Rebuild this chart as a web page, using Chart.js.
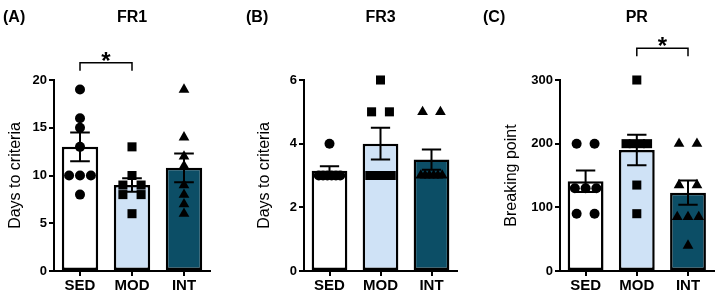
<!DOCTYPE html>
<html>
<head>
<meta charset="utf-8">
<script src="https://cdn.jsdelivr.net/npm/chart.js@4.4.1/dist/chart.umd.min.js"></script>
<style>
  body { margin: 0; background: #fff; width: 720px; height: 296px; position: relative; overflow: hidden;
         font-family: 'Liberation Sans', Arial, sans-serif; }
  .panel { position: absolute; top: 0; width: 240px; height: 296px; }
  .tag { position: absolute; top: 8px; font-weight: bold; font-size: 16px; color: #000; }
</style>
</head>
<body>
<div class="panel" style="left:0"><canvas id="fr1" width="240" height="296"></canvas></div>
<div class="panel" style="left:240px"><canvas id="fr3" width="240" height="296"></canvas></div>
<div class="panel" style="left:480px"><canvas id="pr" width="240" height="296"></canvas></div>
<div class="tag" style="left:3px">(A)</div>
<div class="tag" style="left:246px">(B)</div>
<div class="tag" style="left:483px">(C)</div>

<script>
// groups on the x axis
const groups = ['SED', 'MOD', 'INT'];

// (A) FR1 - days to criteria
const fr1Sed = [19, 16, 15, 13, 10, 10, 10, 8];
const fr1Mod = [13, 10, 9, 9, 8, 8, 6];
const fr1Int = [19, 14, 12, 11, 9, 8, 7, 6];
const fr1Mean = [13.0, 9.0, 10.8];
const fr1Sem = [1.5, 0.7, 1.5];

// (B) FR3 - days to criteria
const fr3Sed = [4, 3, 3, 3, 3, 3, 3];
const fr3Mod = [6, 5, 5, 3, 3, 3, 3];
const fr3Int = [5, 5, 3, 3, 3, 3, 3, 3];
const fr3Mean = [3.15, 4.0, 3.5];
const fr3Sem = [0.14, 0.5, 0.32];

// (C) PR - breaking point
const prSed = [200, 200, 130, 130, 130, 90, 90];
const prMod = [300, 200, 200, 200, 200, 135, 90];
const prInt = [200, 200, 135, 135, 85, 85, 85, 40];
const prMean = [141, 190, 123];
const prSem = [17, 24, 19];

// significant pairs (group indexes)
const fr1Sig = [0, 1];
const prSig = [1, 2];

const fills = ['#ffffff', '#cfe2f6', '#0c4e66'];
const font = "'Liberation Sans', Arial, sans-serif";

// spread equal values side by side like a scatter dot plot
function spread(values, idx) {
    const counts = {}, seen = {};
    values.forEach(v => counts[v] = (counts[v] || 0) + 1);
    return values.map(v => {
        const n = counts[v];
        const i = seen[v] = (seen[v] === undefined ? 0 : seen[v] + 1);
        const w = Math.min((n - 1) * 0.35, 0.42);
        const dx = n > 1 ? -w / 2 + i * w / (n - 1) : 0;
        return { x: idx + dx, y: v };
    });
}

function panel(id, cfg) {
    const extras = {
        id: 'extras',
        afterDatasetDraw(chart, args) {
            if (args.index !== 0) return;
            const { ctx, scales: { x, y } } = chart;
            const bars = chart.getDatasetMeta(0).data;
            ctx.save();
            ctx.strokeStyle = '#000';
            ctx.lineWidth = 2;
            cfg.mean.forEach((m, i) => {
                const px = x.getPixelForValue(i), hw = bars[i].width * 0.27;
                const top = y.getPixelForValue(m + cfg.sem[i]);
                const bot = y.getPixelForValue(m - cfg.sem[i]);
                ctx.beginPath();
                ctx.moveTo(px, top); ctx.lineTo(px, bot);
                ctx.moveTo(px - hw, top); ctx.lineTo(px + hw, top);
                ctx.moveTo(px - hw, bot); ctx.lineTo(px + hw, bot);
                ctx.stroke();
            });
            ctx.restore();
        },
        afterDraw(chart) {
            if (!cfg.sig) return;
            const { ctx, scales: { x, y } } = chart;
            const x1 = x.getPixelForValue(cfg.sig[0]), x2 = x.getPixelForValue(cfg.sig[1]);
            const ly = y.getPixelForValue(cfg.sigLevel);
            ctx.save();
            ctx.strokeStyle = '#000';
            ctx.lineWidth = 1.5;
            ctx.beginPath();
            ctx.moveTo(x1, ly + 8); ctx.lineTo(x1, ly); ctx.lineTo(x2, ly); ctx.lineTo(x2, ly + 8);
            ctx.stroke();
            ctx.fillStyle = '#000';
            ctx.font = 'bold 24px ' + font;
            ctx.textAlign = 'center';
            ctx.textBaseline = 'alphabetic';
            ctx.fillText('*', (x1 + x2) / 2, ly + 6);
            ctx.restore();
        }
    };

    const dot = (pts, i, style, r) => ({
        type: 'scatter', data: spread(pts, i), pointStyle: style, pointRadius: r, clip: false,
        backgroundColor: '#000', borderColor: '#000', borderWidth: 0, order: 1
    });

    new Chart(document.getElementById(id), {
        type: 'bar',
        data: {
            datasets: [
                {
                    data: cfg.mean.map((m, i) => ({ x: i, y: m })),
                    backgroundColor: fills, borderColor: '#000', borderWidth: 2.5, borderSkipped: false,
                    barPercentage: 0.7, categoryPercentage: 1, order: 2
                },
                dot(cfg.pts[0], 0, 'circle', 5),
                dot(cfg.pts[1], 1, 'rect', 6.4),
                dot(cfg.pts[2], 2, 'triangle', 6.2)
            ]
        },
        options: {
            responsive: false,
            animation: false,
            events: [],
            layout: { padding: { left: cfg.padLeft, right: cfg.padRight, top: 0, bottom: 0 } },
            plugins: {
                legend: { display: false },
                tooltip: { enabled: false },
                title: {
                    display: true, text: cfg.title, fullSize: false, color: '#000',
                    font: { family: font, size: 16, weight: 'bold' },
                    padding: { top: 8, bottom: 52.8 }
                }
            },
            scales: {
                x: {
                    type: 'linear', min: -0.5, max: 2.5, offset: false,
                    afterBuildTicks: s => { s.ticks = [0, 1, 2].map(v => ({ value: v })); },
                    afterFit: s => { s.height = 25; },
                    ticks: {
                        autoSkip: false, maxRotation: 0, padding: 1, color: '#000',
                        font: { family: font, size: 15, weight: 'bold' },
                        callback: v => groups[v]
                    },
                    grid: { offset: false, drawOnChartArea: false, drawTicks: true, tickLength: 5, color: '#000', lineWidth: 2 },
                    border: { display: true, color: '#000', width: 2 }
                },
                y: {
                    min: 0, max: cfg.max,
                    afterFit: s => { s.width = cfg.axisX - cfg.padLeft; },
                    ticks: {
                        stepSize: cfg.step, padding: 2, color: '#000',
                        font: { family: font, size: 13, weight: 'bold' }
                    },
                    grid: { drawOnChartArea: false, drawTicks: true, tickLength: 5, color: '#000', lineWidth: 2 },
                    border: { display: true, color: '#000', width: 2 },
                    title: {
                        display: true, text: cfg.yTitle, color: '#000', padding: 0,
                        font: { family: font, size: 16 }
                    }
                }
            }
        },
        plugins: [extras]
    });
}

panel('fr1', {
    title: 'FR1', yTitle: 'Days to criteria', max: 20, step: 5,
    pts: [fr1Sed, fr1Mod, fr1Int], mean: fr1Mean, sem: fr1Sem,
    sig: fr1Sig, sigLevel: 21.8,
    padLeft: 6, axisX: 54, padRight: 30
});

panel('fr3', {
    title: 'FR3', yTitle: 'Days to criteria', max: 6, step: 2,
    pts: [fr3Sed, fr3Mod, fr3Int], mean: fr3Mean, sem: fr3Sem,
    padLeft: 15, axisX: 64, padRight: 23
});

panel('pr', {
    title: 'PR', yTitle: 'Breaking point', max: 300, step: 100,
    pts: [prSed, prMod, prInt], mean: prMean, sem: prSem,
    sig: prSig, sigLevel: 350,
    padLeft: 22, axisX: 80, padRight: 5
});
</script>
</body>
</html>
